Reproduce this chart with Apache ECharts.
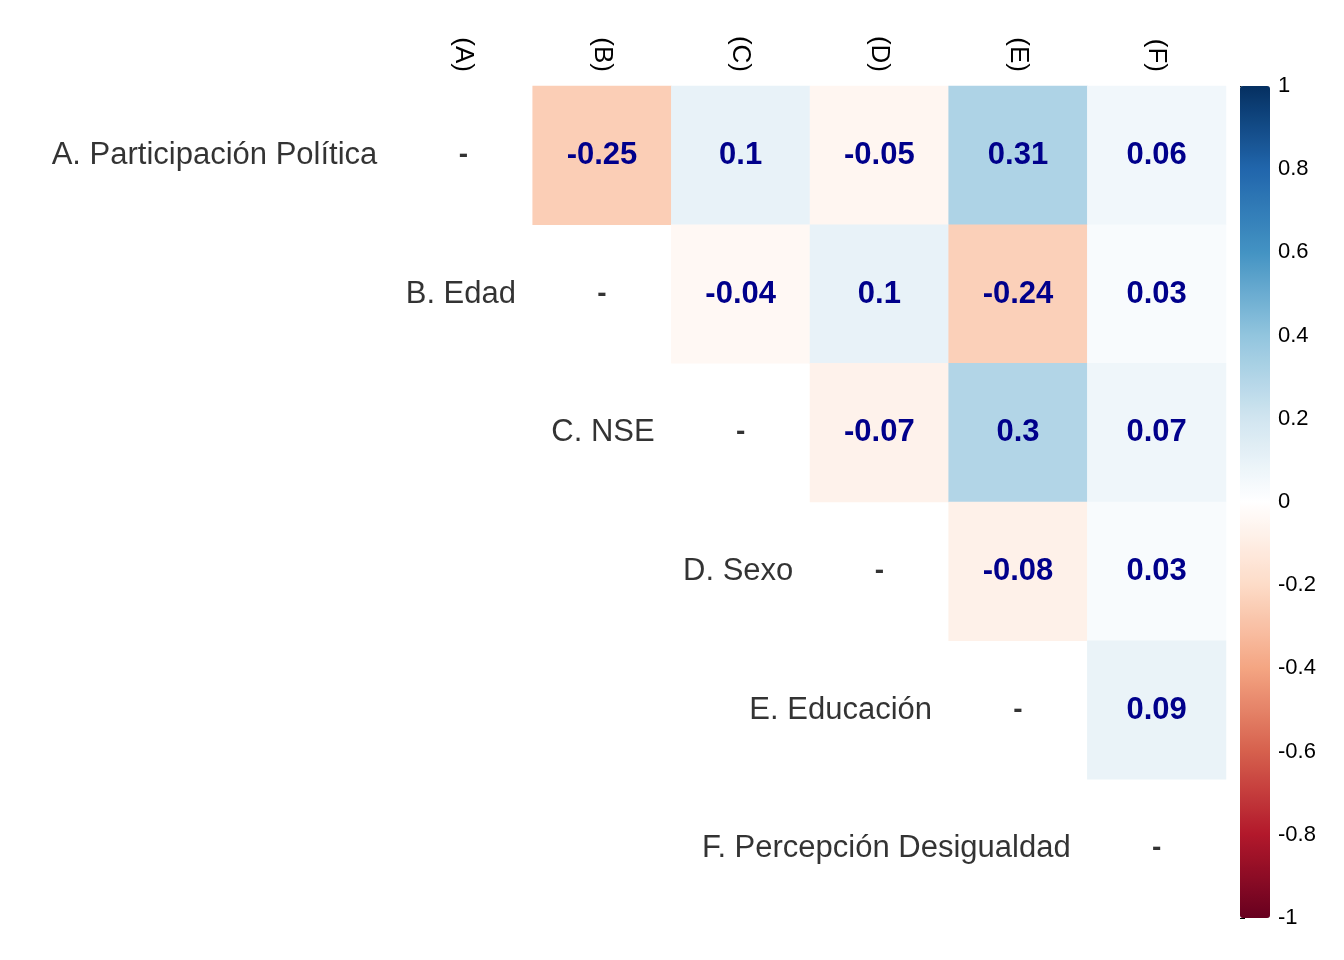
<!DOCTYPE html>
<html><head><meta charset="utf-8">
<script src="https://cdn.jsdelivr.net/npm/echarts@6/dist/echarts.min.js"></script>
<style>body{margin:0}#c{width:1344px;height:960px}</style>
</head><body><div id="c"></div>
<script>
var rowNames = ['A. Participación Política', 'B. Edad', 'C. NSE', 'D. Sexo', 'E. Educación', 'F. Percepción Desigualdad'];
var colNames = ['(A)', '(B)', '(C)', '(D)', '(E)', '(F)'];
// upper triangle correlations, row i, col j>i
var corrA = [-0.25, 0.1, -0.05, 0.31, 0.06];
var corrB = [-0.04, 0.1, -0.24, 0.03];
var corrC = [-0.07, 0.3, 0.07];
var corrD = [-0.08, 0.03];
var corrE = [0.09];
var rowsCorr = [corrA, corrB, corrC, corrD, corrE];

var cells = [];
rowsCorr.forEach(function (vals, i) {
  vals.forEach(function (v, k) { cells.push([i + 1 + k, i, v]); });
});
var diag = rowNames.map(function (n, i) { return [i, i, n]; });

var font = 'Liberation Sans, Arial, sans-serif';
var chart = echarts.init(document.getElementById('c'));
chart.setOption({
  animation: false,
  grid: [
    { left: 394, top: 86, width: 832, height: 832 },
    { left: 1240, top: 86, width: 30, height: 832 }
  ],
  xAxis: [
    { type: 'category', data: colNames, position: 'top', gridIndex: 0,
      axisLine: { show: false }, axisTick: { show: false }, splitLine: { show: false },
      axisLabel: { rotate: 90, margin: 14, fontSize: 26, color: '#000', fontFamily: font } },
    { type: 'value', gridIndex: 1, show: false }
  ],
  yAxis: [
    { type: 'category', data: rowNames, inverse: true, gridIndex: 0, show: false },
    { type: 'value', gridIndex: 1, min: -1, max: 1, interval: 0.2, position: 'right',
      axisLine: { show: false }, splitLine: { show: false },
      axisTick: { show: true, inside: false, length: 5, lineStyle: { color: '#000' } },
      axisLabel: { fontSize: 22, color: '#000', fontFamily: font, margin: 8,
        formatter: function (v) { return String(Math.round(v * 10) / 10); } } }
  ],
  visualMap: {
    type: 'continuous', min: -1, max: 1, seriesIndex: 0, calculable: false,
    left: 1240, top: 86, itemWidth: 30, itemHeight: 832, padding: 0, text: null,
    inRange: { color: ['#67001F', '#B2182B', '#D6604D', '#F4A582', '#FDDBC7', '#FFFFFF',
      '#D1E5F0', '#92C5DE', '#4393C3', '#2166AC', '#053061'] }
  },
  series: [
    { type: 'heatmap', data: cells, xAxisIndex: 0, yAxisIndex: 0,
      label: { show: true, fontSize: 31, fontWeight: 'bold', color: '#00008B', fontFamily: font,
        formatter: function (p) { return String(p.value[2]); } } },
    { type: 'scatter', data: diag, symbolSize: 0, xAxisIndex: 0, yAxisIndex: 0, z: 5,
      label: { show: true, position: 'inside', fontSize: 28, fontWeight: 'bold', color: '#000',
        fontFamily: font, formatter: '-' } },
    { type: 'scatter', data: diag, symbolSize: 0, xAxisIndex: 0, yAxisIndex: 0, z: 5,
      label: { show: true, position: 'left', distance: 86, fontSize: 31, color: '#000',
        fontFamily: font, formatter: function (p) { return p.value[2]; } } }
  ]
});
</script></body></html>
